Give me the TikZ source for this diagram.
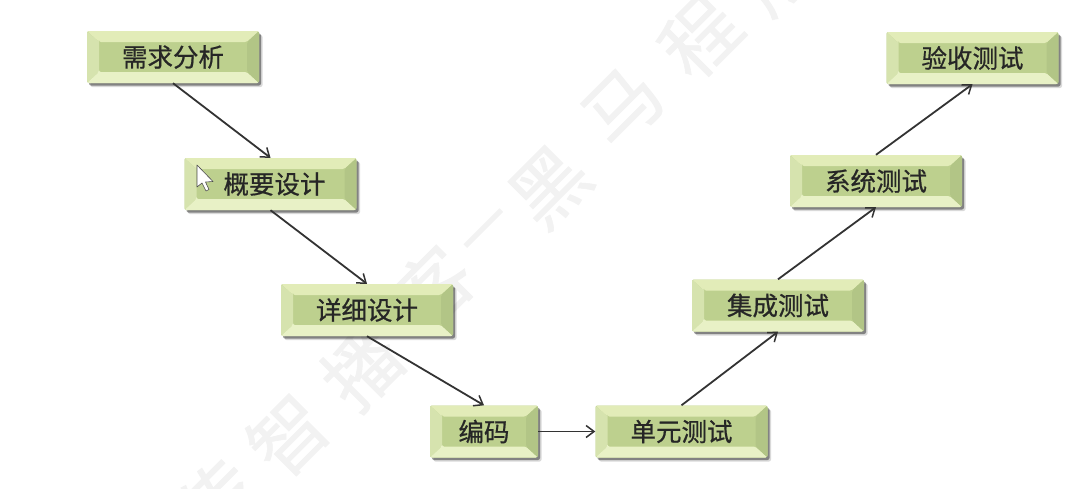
\documentclass[tikz,border=0pt]{standalone}
\usepackage{fontspec}
\newfontfamily\cjkb[FakeBold=0.7]{Noto Sans CJK SC}
\usetikzlibrary{shadows,arrows.meta,calc}
\definecolor{facec}{HTML}{BDD08E}
\definecolor{toplight}{HTML}{E2ECB8}
\definecolor{leftc}{HTML}{D6E3AE}
\definecolor{botc}{HTML}{E8F1C6}
\definecolor{rightc}{HTML}{B2C586}
\definecolor{wmark}{HTML}{F2F2F2}
\tikzset{
  bevbox/.style={rounded corners=2pt,minimum width=#1,minimum height=52pt,inner sep=0pt,
    text=black!85,font=\cjkb\fontsize{25.5}{25.5}\selectfont,fill=facec,
    general shadow={shadow xshift=3.5pt,shadow yshift=-4pt,fill=black,opacity=.15},
    general shadow={shadow xshift=2pt,shadow yshift=-2.5pt,fill=black,opacity=.4},
    path picture={
      \fill[toplight] (path picture bounding box.north west)--(path picture bounding box.north east)
        --++(-12pt,-11pt)-|($(path picture bounding box.north west)+(12pt,-11pt)$)--cycle;
      \fill[leftc] (path picture bounding box.north west)--(path picture bounding box.south west)
        --++(12pt,11pt)|-($(path picture bounding box.north west)+(12pt,-11pt)$)--cycle;
      \fill[botc] (path picture bounding box.south west)--(path picture bounding box.south east)
        --++(-12pt,11pt)-|($(path picture bounding box.south west)+(12pt,11pt)$)--cycle;
      \fill[rightc] (path picture bounding box.south east)--(path picture bounding box.north east)
        --++(-12pt,-11pt)|-($(path picture bounding box.south east)+(-12pt,11pt)$)--cycle;
    }},
  flow/.style={draw=black!80,line width=1.8pt,-{Straight Barb[length=8pt,width=12pt,line width=1.5pt]}},
  wm/.style={text=wmark,font=\cjkb\fontsize{76}{76}\selectfont,rotate=45,inner sep=0pt}
}
\begin{document}
\begin{tikzpicture}[x=1pt,y=-1pt]
\useasboundingbox[fill=white] (0,0) rectangle (1087,488);
\begin{scope}
\clip (0,0) rectangle (1087,488);
\node[wm] (w0) at (218,500) {传};
\node[wm] (w1) at (288,435) {智};
\node[wm] (w2) at (362,368) {播};
\node[wm] (w3) at (433,287) {客};
\node[wm,font=\cjkb\fontsize{55}{55}\selectfont] (w4) at (490,235) {一};
\node[wm] (w5) at (550,187) {黑};
\node[wm] (w6) at (623,107) {马};
\node[wm] (w7) at (700,37) {程};
\node[wm] (w8) at (775,-28) {序};
\end{scope}
\node[bevbox=172pt] (a) at (173,57) {需求分析};
\node[bevbox=172pt] (b) at (270.5,184) {\hspace*{8pt}概要设计};
\node[bevbox=172pt] (c) at (367,310) {详细设计};
\node[bevbox=108pt] (d) at (484,431.5) {编码};
\node[bevbox=172pt] (e) at (681.5,431.5) {单元测试};
\node[bevbox=172pt] (f) at (778,305.5) {集成测试};
\node[bevbox=172pt] (g) at (876,181) {系统测试};
\node[bevbox=172pt] (h) at (972.5,58) {验收测试};
\draw[flow] (a.south)--(b.north);
\draw[flow] (b.south)--(c.north);
\draw[flow] (c.south)--(d.north);
\draw[flow] (d.east)--(e.west);
\draw[flow] (e.north)--(f.south);
\draw[flow] (f.north)--(g.south);
\draw[flow] (g.north)--(h.south);
\draw[fill=white,draw=black!70,line width=.6pt,line join=round]
 (197,165)--(197,187)--(202,183)--(206,191)--(209,189.5)--(205.5,182)--(213,181.5)--cycle;
\end{tikzpicture}
\end{document}
